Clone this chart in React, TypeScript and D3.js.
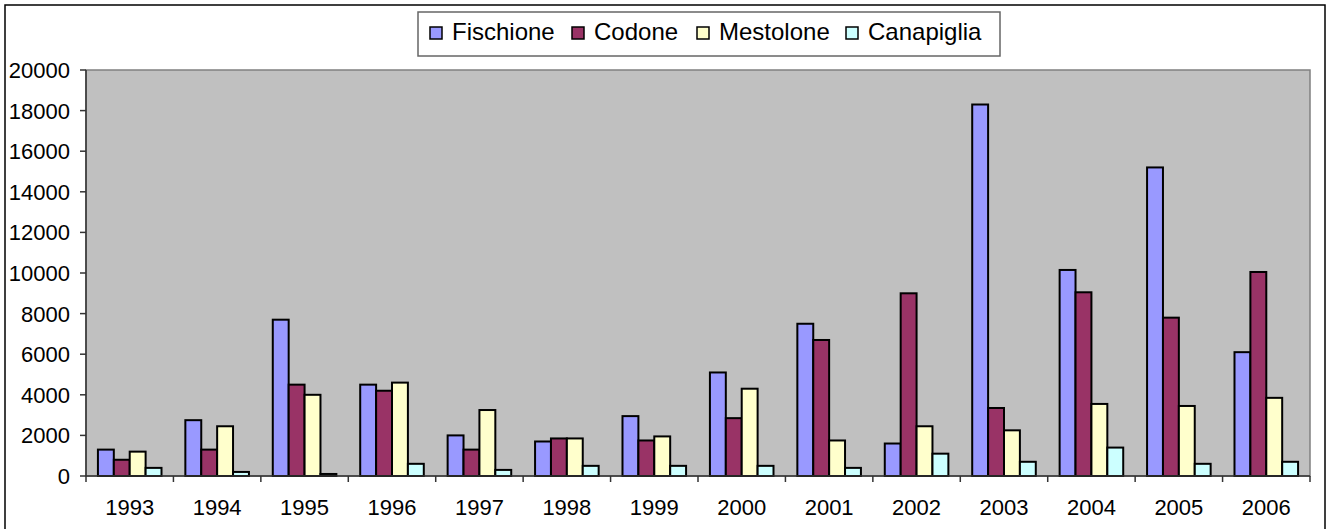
import React, { useEffect, useRef } from "react";
import * as d3 from "d3";

const years = ["1993","1994","1995","1996","1997","1998","1999","2000","2001","2002","2003","2004","2005","2006"];
const seriesNames = ["Fischione", "Codone", "Mestolone", "Canapiglia"];
const seriesColors = ["#9999FF", "#993366", "#FFFFCC", "#CCFFFF"];
const fischione = [1300, 2750, 7700, 4500, 2000, 1700, 2950, 5100, 7500, 1600, 18300, 10150, 15200, 6100];
const codone = [800, 1300, 4500, 4200, 1300, 1850, 1750, 2850, 6700, 9000, 3350, 9050, 7800, 10050];
const mestolone = [1200, 2450, 4000, 4600, 3250, 1850, 1950, 4300, 1750, 2450, 2250, 3550, 3450, 3850];
const canapiglia = [400, 200, 100, 600, 300, 500, 500, 500, 400, 1100, 700, 1400, 600, 700];
const yTicks = [0, 2000, 4000, 6000, 8000, 10000, 12000, 14000, 16000, 18000, 20000];

const W = 1329, H = 529;
const plot = { left: 86, right: 1310, top: 70, bottom: 476 };
const FONT = "'Liberation Sans', Arial, sans-serif";

export default function App() {
  const ref = useRef<SVGSVGElement>(null);
  useEffect(() => {
    const svg = d3.select(ref.current);
    svg.selectAll("*").remove();
    const data = [fischione, codone, mestolone, canapiglia];

    const x = d3.scaleBand<string>().domain(years).range([plot.left, plot.right]).paddingInner(0).paddingOuter(0);
    const xs = d3.scaleBand<string>().domain(seriesNames).range([0, x.step()]).paddingInner(0).paddingOuter(0.75);
    const y = d3.scaleLinear().domain([0, 20000]).range([plot.bottom, plot.top]);

    // outer border
    svg.append("rect").attr("x", 5).attr("y", 5).attr("width", 1320).attr("height", 540)
      .attr("fill", "#fff").attr("stroke", "#000").attr("stroke-width", 1.5);

    // plot area
    svg.append("rect").attr("x", plot.left).attr("y", plot.top)
      .attr("width", plot.right - plot.left).attr("height", plot.bottom - plot.top)
      .attr("fill", "#C0C0C0").attr("stroke", "#808080").attr("stroke-width", 1.5);

    // bars
    data.forEach((vals, si) => {
      svg.append("g").selectAll("rect").data(vals).join("rect")
        .attr("x", (_d, i) => (x(years[i]) as number) + (xs(seriesNames[si]) as number))
        .attr("y", d => y(d))
        .attr("width", xs.bandwidth())
        .attr("height", d => plot.bottom - y(d))
        .attr("fill", seriesColors[si])
        .attr("stroke", "#000").attr("stroke-width", 2);
    });

    // y axis
    const ya = svg.append("g");
    ya.append("line").attr("x1", plot.left).attr("x2", plot.left).attr("y1", plot.top).attr("y2", plot.bottom)
      .attr("stroke", "#333").attr("stroke-width", 1.5);
    yTicks.forEach(t => {
      ya.append("line").attr("x1", plot.left - 6).attr("x2", plot.left).attr("y1", y(t)).attr("y2", y(t))
        .attr("stroke", "#333").attr("stroke-width", 1.5);
      ya.append("text").attr("x", 70).attr("y", y(t) + 8).attr("text-anchor", "end")
        .attr("font-family", FONT).attr("font-size", 22).attr("fill", "#000").text(String(t));
    });

    // x axis
    const xa = svg.append("g");
    xa.append("line").attr("x1", plot.left).attr("x2", plot.right).attr("y1", plot.bottom).attr("y2", plot.bottom)
      .attr("stroke", "#333").attr("stroke-width", 1.5);
    const bounds = years.map(yr => x(yr) as number).concat([plot.right]);
    bounds.forEach(b => {
      xa.append("line").attr("x1", b).attr("x2", b).attr("y1", plot.bottom).attr("y2", plot.bottom + 6)
        .attr("stroke", "#333").attr("stroke-width", 1.5);
    });
    years.forEach(yr => {
      xa.append("text").attr("x", (x(yr) as number) + x.bandwidth() / 2).attr("y", 514.5)
        .attr("text-anchor", "middle").attr("font-family", FONT).attr("font-size", 22)
        .attr("fill", "#000").text(yr);
    });

    // legend
    const lg = svg.append("g");
    lg.append("rect").attr("x", 418).attr("y", 12).attr("width", 582).attr("height", 44)
      .attr("fill", "#fff").attr("stroke", "#666").attr("stroke-width", 1.5);
    const markerX = [430, 572, 697, 846];
    seriesNames.forEach((name, i) => {
      lg.append("rect").attr("x", markerX[i]).attr("y", 27).attr("width", 12).attr("height", 12)
        .attr("fill", seriesColors[i]).attr("stroke", "#000").attr("stroke-width", 1.5);
      lg.append("text").attr("x", markerX[i] + 22).attr("y", 40)
        .attr("font-family", FONT).attr("font-size", 24).attr("fill", "#000").text(name);
    });
  }, []);

  return (
    <svg ref={ref} width={W} height={H} style={{ position: "absolute", left: 0, top: 0, display: "block" }} />
  );
}
